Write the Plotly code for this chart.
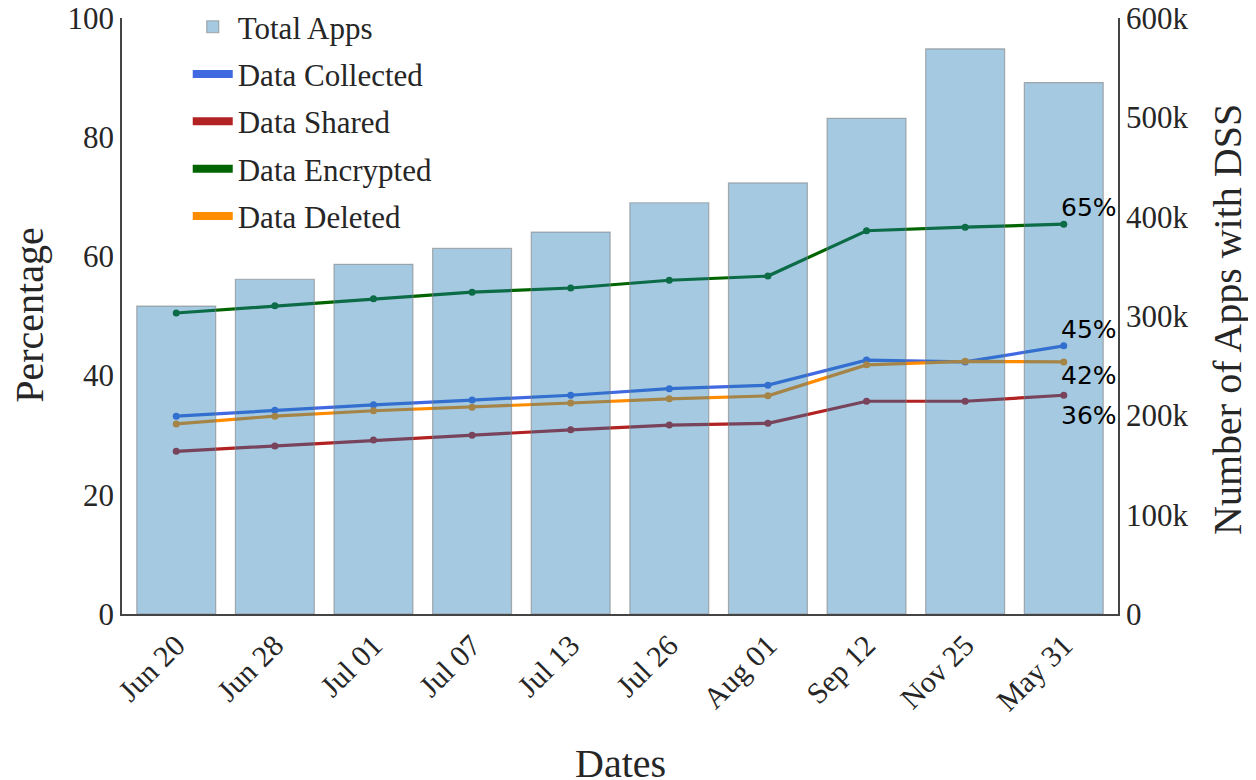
import plotly.graph_objects as go

dates = ["Jun 20", "Jun 28", "Jul 01", "Jul 07", "Jul 13", "Jul 26", "Aug 01", "Sep 12", "Nov 25", "May 31"]
total_apps = [310000, 337000, 352000, 368000, 384500, 414000, 434000, 499000, 569000, 535000]
data_collected = [33.2, 34.2, 35.1, 35.9, 36.7, 37.8, 38.4, 42.6, 42.3, 45.0]
data_shared = [27.3, 28.2, 29.2, 30.0, 30.9, 31.7, 32.0, 35.7, 35.7, 36.7]
data_encrypted = [50.5, 51.7, 52.9, 54.0, 54.7, 56.0, 56.7, 64.3, 64.9, 65.4]
data_deleted = [31.9, 33.2, 34.1, 34.7, 35.4, 36.1, 36.6, 41.8, 42.4, 42.3]
end_labels = ["45%", "36%", "65%", "42%"]

series = [
    ("Data Collected", data_collected, "#4169e1", 16),
    ("Data Shared", data_shared, "#b22222", -20),
    ("Data Encrypted", data_encrypted, "#006400", 17),
    ("Data Deleted", data_deleted, "#ff8c00", -14),
]

serif = "Liberation Serif"
fig = go.Figure()

fig.add_trace(go.Bar(
    x=dates, y=total_apps, name="Total Apps", yaxis="y2",
    width=0.8,
    marker=dict(color="rgba(31,119,180,0.4)", line=dict(color="rgba(128,128,128,0.6)", width=1.2)),
    legendrank=1, legendgroup="g0",
))

for i, (name, vals, col, dy) in enumerate(series):
    fig.add_trace(go.Scatter(
        x=dates, y=vals, mode="lines+markers", name=name,
        line=dict(color=col, width=3.2), marker=dict(color=col, size=7),
        showlegend=False, yaxis="y",
    ))
    fig.add_trace(go.Scatter(
        x=[None], y=[None], mode="lines", name=name,
        line=dict(color=col, width=8), legendrank=2 + i, legendgroup="g%d" % (i + 1),
    ))
    fig.add_annotation(
        x=dates[-1], y=vals[-1], xref="x", yref="y", text=end_labels[i],
        showarrow=False, xshift=25, yshift=dy,
        font=dict(family="DejaVu Sans", size=25, color="black"),
    )

title_font = dict(family=serif, size=40, color="#262626")
fig.add_annotation(text="Percentage", xref="paper", yref="paper", x=-0.0924, y=0.502,
                   xanchor="center", yanchor="middle",
                   textangle=-90, showarrow=False, font=title_font)
fig.add_annotation(text="Number of Apps with DSS", xref="paper", yref="paper", x=1.1104, y=0.495,
                   xanchor="center", yanchor="middle",
                   textangle=-90, showarrow=False, font=title_font)
fig.add_annotation(text="Dates", xref="paper", yref="paper", x=0.5, y=-0.25,
                   xanchor="center", yanchor="middle",
                   showarrow=False, font=title_font)

fig.update_layout(
    width=1248, height=772,
    margin=dict(l=114, r=138, t=10, b=166, autoexpand=False),
    plot_bgcolor="white", paper_bgcolor="white",
    font=dict(family=serif, size=31, color="#262626"),
    showlegend=True,
    legend=dict(x=0.066, y=1.03, xanchor="left", yanchor="top",
                bgcolor="rgba(0,0,0,0)", font=dict(family=serif, size=31, color="#262626"),
                tracegroupgap=4, itemwidth=40),
    xaxis=dict(
        range=[-0.55, 9.55], tickangle=-45, showgrid=False, automargin=False,
        showline=True, linecolor="#444", linewidth=1.5, ticks="",
        tickfont=dict(size=30), ticklabeloverflow="allow",
    ),
    yaxis=dict(
        range=[0, 100], dtick=20, showgrid=False, zeroline=False, automargin=False,
        showline=True, linecolor="#444", linewidth=1.5, ticks="",
        tickfont=dict(size=31), ticklabeloverflow="allow",
    ),
    yaxis2=dict(
        range=[0, 600000], tickvals=[0, 100000, 200000, 300000, 400000, 500000, 600000],
        ticktext=["0", "100k", "200k", "300k", "400k", "500k", "600k"],
        overlaying="y", side="right", showgrid=False, zeroline=False, automargin=False,
        showline=True, linecolor="#444", linewidth=1.5, ticks="",
        tickfont=dict(size=31), ticklabeloverflow="allow",
    ),
)

fig.write_html("out.html")
